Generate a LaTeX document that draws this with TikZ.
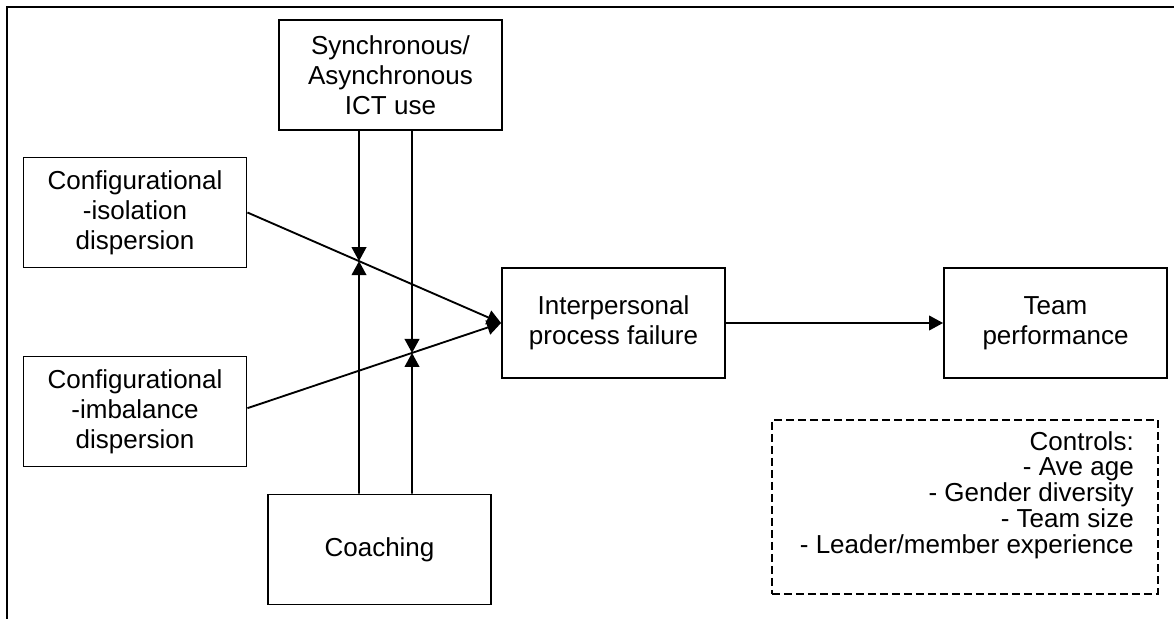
\documentclass[tikz,border=0pt]{standalone}
\usepackage{fontspec}
\setmainfont{Liberation Sans}
\usetikzlibrary{arrows.meta}
\begin{document}
\begin{tikzpicture}[x=0.75pt,y=-0.75pt,
  txt/.style={font=\fontsize{19.5}{22.4}\selectfont},
  box/.style={txt, draw, line width=1.4pt, align=center, inner sep=0pt,
              minimum width=167.25pt, minimum height=82.5pt},
  arr/.style={line width=1.4pt, -{Triangle[length=10.5pt,width=11pt]}},
  ctlbox/.style={draw, line width=1.4pt, dash pattern=on 6pt off 3pt,
                 inner sep=0pt, minimum width=289.5pt, minimum height=130.5pt}]
  \useasboundingbox (0,0) rectangle (1174,618);

  % outer frame (top and left edges)
  \draw[line width=1.5pt] (7,630) -- (7,7) -- (1190,7);

  % boxes
  \node[box] (syn)   at (390.5,75)    {Synchronous/\\Asynchronous\\ICT use};
  \node[box] (iso)   at (135,212.5)   {Configurational\\-isolation\\dispersion};
  \node[box] (imb)   at (135,411.5)   {Configurational\\-imbalance\\dispersion};
  \node[box] (coach) at (379.5,549.5) {Coaching};
  \node[box] (ipf)   at (613.5,323)   {Interpersonal\\process failure};
  \node[box] (team)  at (1055.5,323)  {Team\\performance};

  % controls
  \node[ctlbox, anchor=north west] (ctl) at (771,419) {};
  \node[font=\fontsize{19.5}{19.35}\selectfont, align=right, anchor=north east,
        inner sep=0pt] (ctltext) at (1134,431)
    {Controls:\\- Ave age\\- Gender diversity\\- Team size\\- Leader/member experience};

  % main paths
  \draw[arr] (iso.east) -- (ipf.west);
  \draw[arr] ([yshift=2.5pt]imb.east) -- (ipf.west);
  \draw[arr] (ipf.east) -- (team.west);

  % moderator lines
  \path (359,0) coordinate (xa) (412,0) coordinate (xb);
  \coordinate (sa) at (syn.south -| xa);
  \coordinate (ca) at (coach.north -| xa);
  \coordinate (sb) at (syn.south -| xb);
  \coordinate (cb) at (coach.north -| xb);
  \coordinate (ma) at (intersection of iso.east--ipf.west and sa--ca);
  \coordinate (mb) at (intersection of {[yshift=2.5pt]imb.east}--ipf.west and sb--cb);
  \draw[arr] (sa) -- (ma);
  \draw[arr] (ca) -- (ma);
  \draw[arr] (sb) -- (mb);
  \draw[arr] (cb) -- (mb);
\end{tikzpicture}
\end{document}
